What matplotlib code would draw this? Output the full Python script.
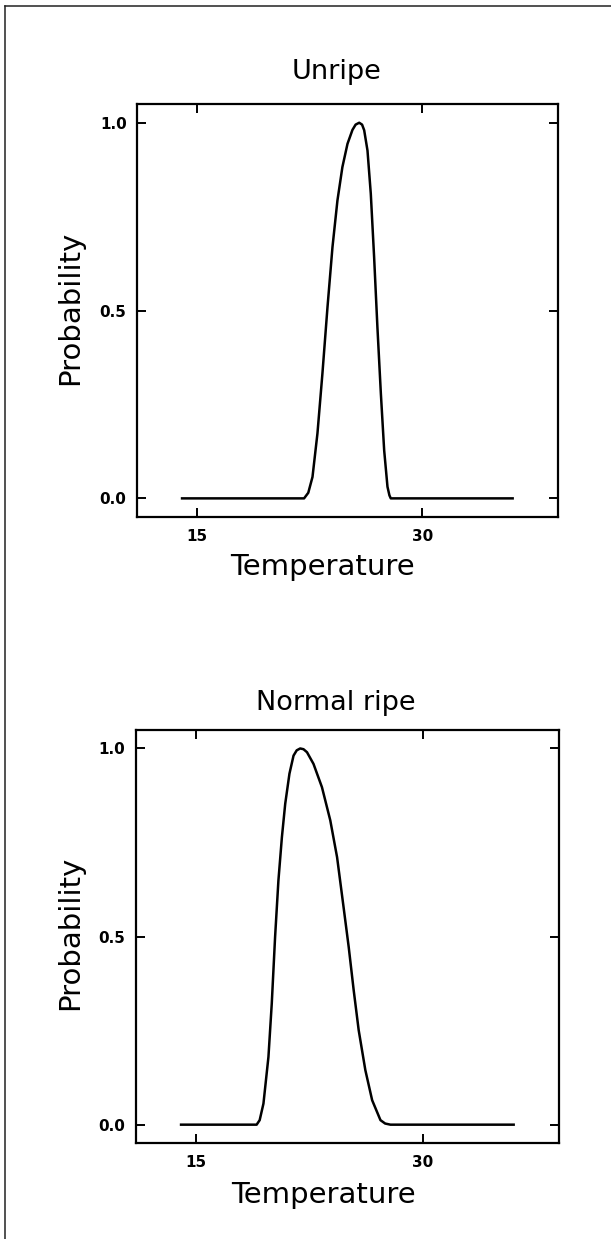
#!/usr/bin/env python3
import matplotlib
matplotlib.use("Agg")
import matplotlib.pyplot as plt
from matplotlib.lines import Line2D


# values
unripe_temp = [14.0, 22.12, 22.4, 22.68, 23.01, 23.34, 23.68, 24.01, 24.34, 24.67,
               25.01, 25.34, 25.55, 25.79, 25.98, 26.12, 26.34, 26.56, 26.78, 27.0,
               27.23, 27.45, 27.67, 27.8, 27.89, 36.0]
unripe_prob = [0.0, 0.0, 0.015, 0.057, 0.173, 0.332, 0.51, 0.669, 0.793, 0.882,
               0.944, 0.981, 0.995, 1.0, 0.995, 0.98, 0.926, 0.811, 0.643, 0.456,
               0.279, 0.128, 0.031, 0.008, 0.0, 0.0]

ripe_temp = [14.0, 19.0, 19.2, 19.45, 19.78, 20.0, 20.22, 20.44, 20.67, 20.89,
             21.17, 21.44, 21.65, 21.88, 22.1, 22.33, 22.76, 23.32, 23.87, 24.32,
             24.75, 25.09, 25.42, 25.75, 26.19, 26.64, 27.19, 27.5, 27.85, 36.0]
ripe_prob = [0.0, 0.0, 0.012, 0.056, 0.18, 0.322, 0.499, 0.649, 0.764, 0.853,
             0.933, 0.981, 0.995, 1.0, 0.998, 0.99, 0.959, 0.897, 0.809, 0.711,
             0.578, 0.472, 0.357, 0.251, 0.145, 0.065, 0.012, 0.003, 0.0, 0.0]

titles = ["Unripe", "Normal ripe"]
x_ticks = [15, 30]
x_tick_labels = ["15", "30"]
y_ticks = [0.0, 0.5, 1.0]
y_tick_labels = ["0.0", "0.5", "1.0"]

W, H = 611, 1239
FONT = "DejaVu Sans"


def fx(px):
    return px / W


def fy(py):
    return 1 - py / H


def draw_panel(fig, rect, temp, prob, title, title_xy, xlabel_xy, ylabel_xy):
    ax = fig.add_axes(rect)
    ax.plot(temp, prob, color="black", linewidth=1.8, solid_joinstyle="round")
    ax.set_xlim(11, 39)
    ax.set_ylim(-0.05, 1.05)

    ax.set_xticks(x_ticks, labels=x_tick_labels, fontweight="bold", fontsize=11, family=FONT)
    ax.set_yticks(y_ticks, labels=y_tick_labels, fontweight="bold", fontsize=11, family=FONT)
    ax.tick_params(axis="both", direction="in", top=True, right=True,
                   length=6.5, width=1.4, color="black")
    ax.tick_params(axis="x", pad=8.5)
    ax.tick_params(axis="y", pad=7.5)
    for spine in ax.spines.values():
        spine.set_linewidth(1.6)

    fig.text(fx(title_xy[0]), fy(title_xy[1]), title, ha="center", va="baseline",
             fontsize=19.5, family=FONT, color="black")
    fig.text(fx(xlabel_xy[0]), fy(xlabel_xy[1]), "Temperature", ha="center", va="baseline",
             fontsize=21, family=FONT, color="black")
    fig.text(fx(ylabel_xy[0]), fy(ylabel_xy[1]), "Probability", ha="center", va="center",
             rotation=90, fontsize=21, family=FONT, color="black")
    return ax


def main():
    fig = plt.figure(figsize=(W / 100, H / 100), dpi=100)

    draw_panel(fig, [0.2242, 0.5826, 0.6886, 0.3335], unripe_temp, unripe_prob,
               titles[0], (337, 78.7), (322, 574.8), (70, 307.7))
    draw_panel(fig, [0.2221, 0.0771, 0.6928, 0.3340], ripe_temp, ripe_prob,
               titles[1], (336, 710), (323, 1203), (70.4, 933))

    # scanned page frame: left and top edges only
    fig.add_artist(Line2D([fx(4.7), fx(4.7)], [0, fy(6)], color="#222222", linewidth=1.1))
    fig.add_artist(Line2D([fx(4.7), 1], [fy(6), fy(6)], color="#222222", linewidth=1.1))

    fig.savefig("out.png", dpi=100)
    plt.close(fig)


if __name__ == "__main__":
    main()
